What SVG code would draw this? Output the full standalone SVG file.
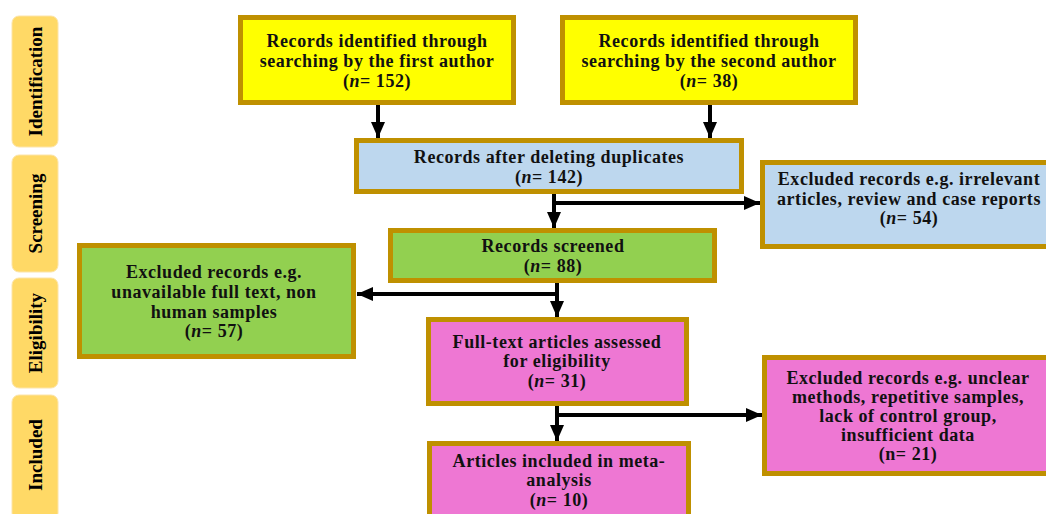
<svg xmlns="http://www.w3.org/2000/svg" width="1046" height="514" viewBox="0 0 1046 514">
<defs>
<style>
.side{fill:#FFD966;stroke:#FCE4A8;stroke-width:1}
.st{font-family:"Liberation Serif",serif;font-weight:bold;font-size:19px;fill:#000;text-anchor:middle;dominant-baseline:central}
.box{stroke:#BF9000;stroke-width:5}
.y{fill:#FFFF00}.b{fill:#BDD7EE}.g{fill:#92D050}.p{fill:#EE77D3}
.t{font-family:"Liberation Serif",serif;font-weight:bold;font-size:18px;letter-spacing:0.55px;fill:#111;text-anchor:middle}
.c{stroke:#000;stroke-width:4;fill:none}
</style>
<marker id="ah" markerUnits="userSpaceOnUse" markerWidth="18" markerHeight="16" refX="16" refY="7" orient="auto">
<path d="M0,0 L16,7 L0,14 Z" fill="#000"/>
</marker>
</defs>
<rect width="1046" height="514" fill="#fff"/>

<g id="side-identification"><rect class="side" x="12" y="16" width="46" height="131" rx="7"/><text class="st" transform="translate(35,81.5) rotate(-90)">Identification</text></g>
<g id="side-screening"><rect class="side" x="12" y="155" width="46" height="117" rx="7"/><text class="st" transform="translate(35,213.5) rotate(-90)">Screening</text></g>
<g id="side-eligibility"><rect class="side" x="12" y="278" width="46" height="110" rx="7"/><text class="st" transform="translate(35,333) rotate(-90)">Eligibility</text></g>
<g id="side-included"><rect class="side" x="12" y="395" width="46" height="125" rx="7"/><text class="st" transform="translate(35,455) rotate(-90)">Included</text></g>

<g id="connectors">
<line class="c" x1="378" y1="105" x2="378" y2="138" marker-end="url(#ah)"/>
<line class="c" x1="710" y1="105" x2="710" y2="138" marker-end="url(#ah)"/>
<line class="c" x1="554" y1="194" x2="554" y2="228" marker-end="url(#ah)"/>
<line class="c" x1="552" y1="203" x2="760" y2="203" marker-end="url(#ah)"/>
<line class="c" x1="557" y1="283" x2="557" y2="317" marker-end="url(#ah)"/>
<line class="c" x1="559" y1="294" x2="357" y2="294" marker-end="url(#ah)"/>
<line class="c" x1="557" y1="406" x2="557" y2="441" marker-end="url(#ah)"/>
<line class="c" x1="555" y1="415" x2="762" y2="415" marker-end="url(#ah)"/>
</g>

<g id="first-author">
<rect class="box y" x="240.5" y="17.5" width="273" height="85"/>
<text class="t" x="377" y="47">Records identified through</text>
<text class="t" x="377" y="67">searching by the first author</text>
<text class="t" x="377" y="87">(<tspan font-style="italic">n</tspan>= 152)</text>
</g>

<g id="second-author">
<rect class="box y" x="562.5" y="17.5" width="293" height="85"/>
<text class="t" x="709" y="47">Records identified through</text>
<text class="t" x="709" y="67">searching by the second author</text>
<text class="t" x="709" y="87">(<tspan font-style="italic">n</tspan>= 38)</text>
</g>

<g id="after-duplicates">
<rect class="box b" x="356.5" y="140.5" width="385" height="51"/>
<text class="t" x="549" y="163">Records after deleting duplicates</text>
<text class="t" x="549" y="183">(<tspan font-style="italic">n</tspan>= 142)</text>
</g>

<g id="excluded-irrelevant">
<rect class="box b" x="762.5" y="162.5" width="296" height="84"/>
<text class="t" x="909" y="185">Excluded records e.g. irrelevant</text>
<text class="t" x="909" y="205">articles, review and case reports</text>
<text class="t" x="909" y="224">(<tspan font-style="italic">n</tspan>= 54)</text>
</g>

<g id="screened">
<rect class="box g" x="390.5" y="230.5" width="324" height="50"/>
<text class="t" x="553" y="252">Records screened</text>
<text class="t" x="553" y="272">(<tspan font-style="italic">n</tspan>= 88)</text>
</g>

<g id="excluded-unavailable">
<rect class="box g" x="79.5" y="245.5" width="274" height="111"/>
<text class="t" x="214" y="278">Excluded records e.g.</text>
<text class="t" x="214" y="298">unavailable full text, non</text>
<text class="t" x="214" y="318">human samples</text>
<text class="t" x="214" y="337">(<tspan font-style="italic">n</tspan>= 57)</text>
</g>

<g id="full-text">
<rect class="box p" x="428.5" y="319.5" width="258" height="84"/>
<text class="t" x="557" y="348">Full-text articles assessed</text>
<text class="t" x="557" y="367">for eligibility</text>
<text class="t" x="557" y="387">(<tspan font-style="italic">n</tspan>= 31)</text>
</g>

<g id="excluded-unclear">
<rect class="box p" x="764.5" y="357.5" width="292" height="116"/>
<text class="t" x="908" y="384">Excluded records e.g. unclear</text>
<text class="t" x="908" y="403">methods, repetitive samples,</text>
<text class="t" x="908" y="422">lack of control group,</text>
<text class="t" x="908" y="441">insufficient data</text>
<text class="t" x="908" y="460">(n= 21)</text>
</g>

<g id="included">
<rect class="box p" x="429.5" y="443.5" width="259" height="80"/>
<text class="t" x="559" y="467">Articles included in meta-</text>
<text class="t" x="559" y="486">analysis</text>
<text class="t" x="559" y="506">(<tspan font-style="italic">n</tspan>= 10)</text>
</g>
</svg>
